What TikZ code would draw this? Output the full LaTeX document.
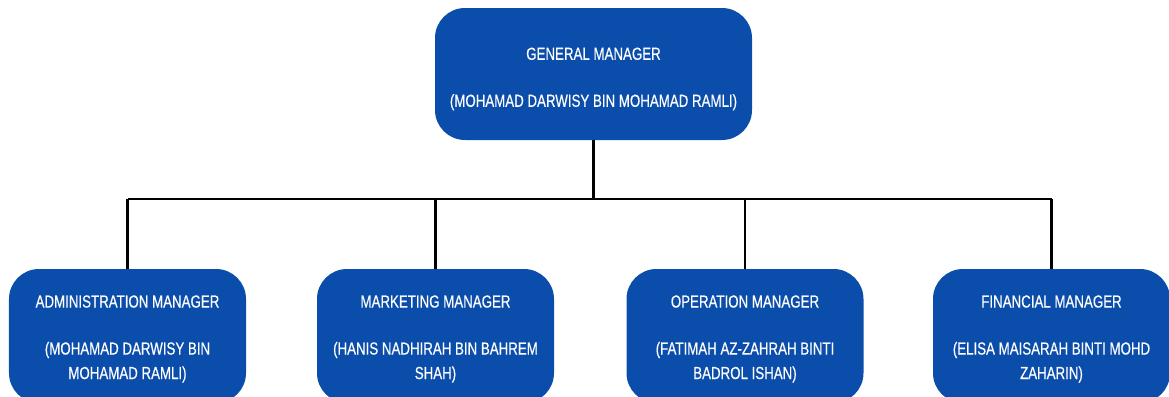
\documentclass[tikz,border=0pt]{standalone}
\usepackage{fontspec}
\setmainfont[FakeStretch=0.76,FakeBold=0.4]{Liberation Sans}
\definecolor{boxblue}{HTML}{0B4DAA}
\begin{document}
\begin{tikzpicture}[x=1bp,y=-1bp,
  post/.style={fill=boxblue, rounded corners=30bp, inner sep=0pt},
  toppost/.style={post, minimum width=317bp, minimum height=132bp},
  subpost/.style={post, minimum width=237bp, minimum height=134bp},
  caption/.style={text=white, align=center, inner sep=0pt,
    font=\fontsize{17.5bp}{24.5bp}\selectfont},
  link/.style={draw=black, line width=2.4bp}]
\useasboundingbox (0,0) rectangle (1169,396);
\clip (0,0) rectangle (1169,396);

% top level
\node[toppost] (gm) at (593.5,74) {};
\node[caption, yshift=-5bp] (gmt) at (gm.center) {GENERAL MANAGER\\[22.5bp](MOHAMAD DARWISY BIN MOHAMAD RAMLI)};

% second level
\node[subpost] (adm) at (127.5,336) {};
\node[subpost] (mkt) at (435.5,336) {};
\node[subpost] (opr) at (745,336) {};
\node[subpost] (fin) at (1051.5,336) {};
\node[caption, yshift=-3bp] (admt) at (adm.center) {ADMINISTRATION MANAGER\\[22.5bp](MOHAMAD DARWISY BIN\\MOHAMAD RAMLI)};
\node[caption, yshift=-3bp] (mktt) at (mkt.center) {MARKETING MANAGER\\[22.5bp](HANIS NADHIRAH BIN BAHREM\\SHAH)};
\node[caption, yshift=-3bp] (oprt) at (opr.center) {OPERATION MANAGER\\[22.5bp](FATIMAH AZ-ZAHRAH BINTI\\BADROL ISHAN)};
\node[caption, yshift=-3bp] (fint) at (fin.center) {FINANCIAL MANAGER\\[22.5bp](ELISA MAISARAH BINTI MOHD\\ZAHARIN)};

% connectors
\coordinate (bus) at (0,199);
\draw[link] (gm.south) -- (gm.south |- bus);
\draw[link] (adm.north |- bus) -- (fin.north |- bus);
\draw[link] (adm.north) -- (adm.north |- bus);
\draw[link] (mkt.north) -- (mkt.north |- bus);
\draw[link] (opr.north) -- (opr.north |- bus);
\draw[link] (fin.north) -- (fin.north |- bus);
\end{tikzpicture}
\end{document}
